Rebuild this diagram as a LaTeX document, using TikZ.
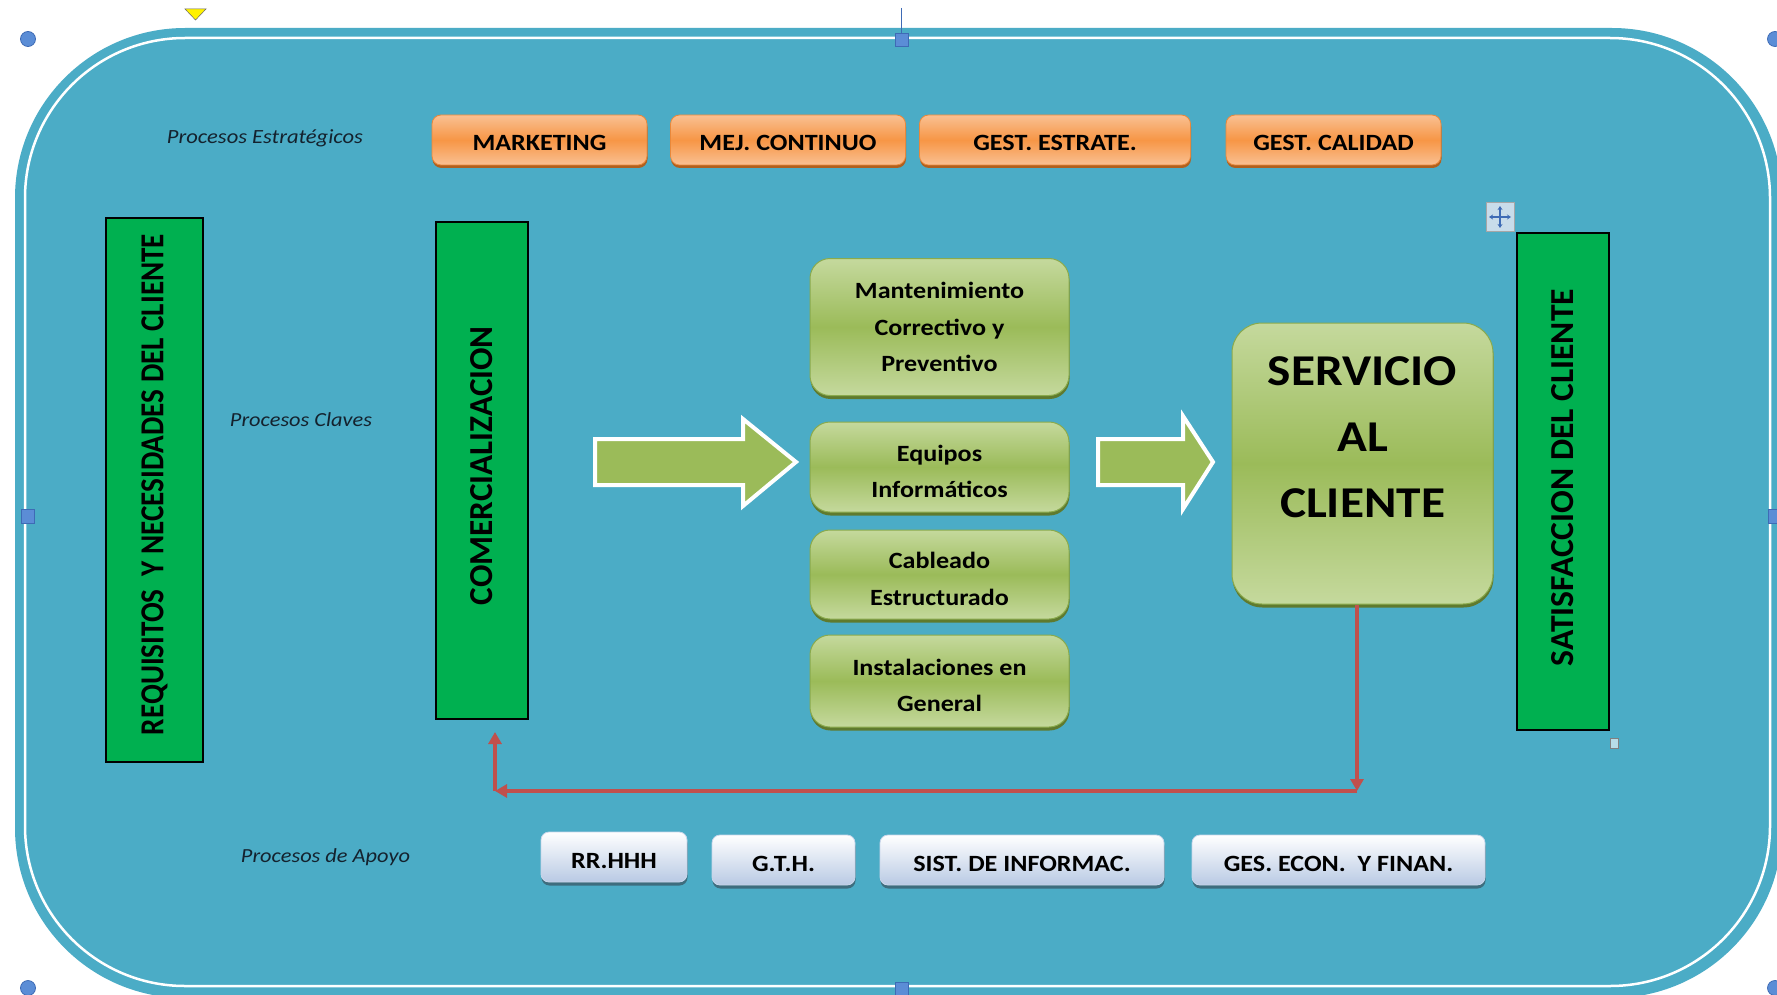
\documentclass[tikz,border=0pt]{standalone}
\usepackage{graphicx}
\usepackage{fontspec}
\setmainfont{Carlito}[FakeStretch=1.12]
\usetikzlibrary{arrows.meta,shadows,calc}
\definecolor{bgteal}{HTML}{4BACC6}
\definecolor{orLight}{HTML}{F9C092}
\definecolor{orMid}{HTML}{F79646}
\definecolor{orBorder}{HTML}{E9883A}
\definecolor{orShadow}{HTML}{B0601E}
\definecolor{grLight}{HTML}{C5D99D}
\definecolor{grMid}{HTML}{9BBB59}
\definecolor{grBorder}{HTML}{8AAA4C}
\definecolor{grShadow}{HTML}{5F7A2E}
\definecolor{wbBot}{HTML}{B9CAE4}
\definecolor{wbBorder}{HTML}{C9D6EA}
\definecolor{wbShadow}{HTML}{3E6D7E}
\definecolor{grRect}{HTML}{00B050}
\definecolor{redc}{HTML}{C0504D}
\definecolor{hblue}{HTML}{5B8DD6}
\definecolor{hblueD}{HTML}{3E6BB5}
\definecolor{labcol}{HTML}{14222E}
\definecolor{moveBg}{HTML}{C8DCEA}
\definecolor{smallsq}{HTML}{B7DDE8}
\tikzset{
  orbox/.style={draw=orBorder, line width=0.8pt, rounded corners=9pt,
    top color=orLight, bottom color=orLight, middle color=orMid,
    minimum height=50pt, inner sep=0pt, text height=22pt, text depth=0pt,
    font=\bfseries\fontsize{23.3}{28}\selectfont,
    drop shadow={shadow xshift=0.5pt, shadow yshift=-3pt, fill=orShadow, opacity=1}},
  gbox/.style={draw=grBorder, line width=1pt, rounded corners=20pt,
    top color=grLight, bottom color=grLight, middle color=grMid,
    inner sep=0pt, align=center,
    font=\bfseries\fontsize{23.3}{36.5}\selectfont,
    drop shadow={shadow xshift=0.5pt, shadow yshift=-3.5pt, fill=grShadow, opacity=1}},
  sbox/.style={draw=grBorder, line width=1pt, rounded corners=30pt,
    top color=grLight, bottom color=grLight, middle color=grMid,
    inner sep=0pt,
    drop shadow={shadow xshift=0.5pt, shadow yshift=-3.5pt, fill=grShadow, opacity=1}},
  stext/.style={inner sep=0pt, align=center, font=\bfseries\fontsize{44}{66}\selectfont},
  wbox/.style={draw=wbBorder, line width=0.8pt, rounded corners=8pt,
    top color=white, bottom color=wbBot,
    minimum height=50pt, inner sep=0pt, text height=22pt, text depth=0pt,
    font=\bfseries\fontsize{23.3}{28}\selectfont,
    drop shadow={shadow xshift=0.5pt, shadow yshift=-3.5pt, fill=wbShadow, opacity=1}},
  grect/.style={draw=black, line width=2pt, fill=grRect, inner sep=0pt, font=\bfseries},
  lab/.style={inner sep=0pt, text=labcol, font=\itshape},
  blockarrow/.style={fill=grMid, draw=white, line width=4pt, line join=miter},
  redarrow/.style={draw=redc, line width=3.5pt, -{Triangle[width=13pt,length=12pt]}},
  hcirc/.style={fill=hblue, draw=hblueD, line width=0.8pt},
  hsq/.style={fill=hblue, draw=hblueD, line width=0.8pt},
}
\begin{document}
\begin{tikzpicture}[x=1pt,y=-1pt]
\useasboundingbox (0,0) rectangle (1777,995);
\fill[white] (0,0) rectangle (1777,995);
% frame
\fill[bgteal, rounded corners=170pt] (15,28) rectangle (1782,998);
\draw[white, line width=2.5pt, rounded corners=160pt] (25,38) rectangle (1770,986);
% section labels
\node[lab] (pe) at (265,138) {\resizebox{196pt}{!}{Procesos Estratégicos}};
\node[lab] (pc) at (301,420) {\resizebox{142pt}{!}{Procesos Claves}};
\node[lab] (pa) at (325.5,857) {\resizebox{169pt}{!}{Procesos de Apoyo}};
% strategic
\node[orbox, minimum width=215pt] (mk) at (539.5,140) {MARKETING};
\node[orbox, minimum width=235pt] (mj) at (788,140) {MEJ. CONTINUO};
\node[orbox, minimum width=271pt] (ge) at (1055,140) {GEST. ESTRATE.};
\node[orbox, minimum width=215pt] (gc) at (1333.5,140) {GEST. CALIDAD};
% green bars
\node[grect, minimum width=97pt, minimum height=544pt, text depth=11pt] (req) at (154.5,490)
  {\rotatebox{90}{\resizebox{501pt}{22pt}{REQUISITOS\ \ Y NECESIDADES DEL CLIENTE}}};
\node[grect, minimum width=92pt, minimum height=497pt, text depth=9.5pt] (com) at (481.5,470.5)
  {\rotatebox{90}{\resizebox{279pt}{22pt}{COMERCIALIZACION}}};
\node[grect, minimum width=92pt, minimum height=497pt, text depth=8pt] (sat) at (1563,481.5)
  {\rotatebox{90}{\resizebox{377pt}{22pt}{SATISFACCION DEL CLIENTE}}};
% key processes
\node[gbox, minimum width=259pt, minimum height=137pt] (mant) at (939.5,327) {Mantenimiento\\Correctivo y\\Preventivo};
\node[gbox, minimum width=259pt, minimum height=90pt, text height=61pt, text depth=0pt] (equi) at (939.5,467) {Equipos\\Informáticos};
\node[gbox, minimum width=259pt, minimum height=89pt, text height=61pt, text depth=0pt] (cabl) at (939.5,574.5) {Cableado\\Estructurado};
\node[gbox, minimum width=259pt, minimum height=92pt, text height=61pt, text depth=0pt] (inst) at (939.5,681) {Instalaciones en\\General};
\node[sbox, minimum width=261pt, minimum height=281pt] (serv) at (1362.5,463.5) {};
\node[stext] (servt) at (1362.5,437) {SERVICIO\\AL\\CLIENTE};
% block arrows
\draw[blockarrow] (595,439) -- (743,439) -- (743,419) -- (796,462) -- (743,506) -- (743,485) -- (595,485) -- cycle;
\draw[blockarrow] (1098,439) -- (1183,439) -- (1183,416) -- (1213,462) -- (1183,509) -- (1183,485) -- (1098,485) -- cycle;
% support
\node[wbox, minimum width=146pt] (rr) at (614,857) {RR.HHH};
\node[wbox, minimum width=143pt] (gth) at (783.5,860) {G.T.H.};
\node[wbox, minimum width=284pt] (sist) at (1022,860) {SIST. DE INFORMAC.};
\node[wbox, minimum width=293pt] (ges) at (1338.5,860) {GES. ECON.\ \ Y FINAN.};
% feedback connector
\coordinate (c1) at (1357,791);
\coordinate (c2) at (495,791);
\draw[redarrow] (serv.south -| c1) -- (c1);
\draw[redarrow] (c1) -- (c2);
\draw[redarrow, shorten >=12pt] (c2) -- (com.south -| c2);
% editor handles
\draw[hcirc] (28,39) circle (7.5pt);
\draw[hcirc] (1775,39) circle (7.5pt);
\draw[hcirc] (28,988) circle (7.5pt);
\draw[hcirc] (1775,988) circle (7.5pt);
\draw[hblueD, line width=1pt] (901.5,8) -- (901.5,33);
\draw[hsq] (895,33) rectangle (908,46);
\draw[hsq] (21,509) rectangle (34,523);
\draw[hsq] (1768,509) rectangle (1781,523);
\draw[hsq] (895,982) rectangle (908,995);
\draw[fill=yellow, draw=black!60, line width=0.5pt] (185,9) -- (206,9) -- (195.5,20) -- cycle;
\draw[fill=moveBg, draw=gray!70, line width=1pt] (1486,203) rectangle (1514,231);
\draw[hblueD, line width=1.3pt, {Stealth[length=4pt,width=5pt]}-{Stealth[length=4pt,width=5pt]}] (1489,217) -- (1511,217);
\draw[hblueD, line width=1.3pt, {Stealth[length=4pt,width=5pt]}-{Stealth[length=4pt,width=5pt]}] (1500,206) -- (1500,228);
\draw[fill=smallsq, draw=gray, line width=0.8pt] (1610,738) rectangle (1618,748);
\end{tikzpicture}
\end{document}
